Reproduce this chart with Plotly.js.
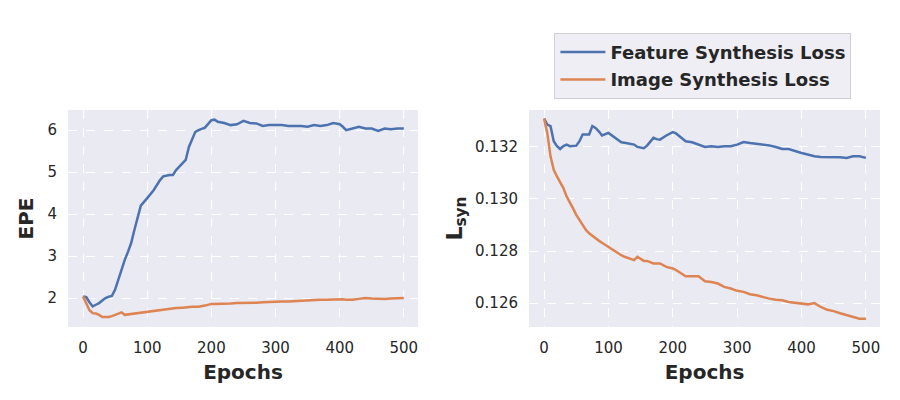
<!DOCTYPE html>
<html>
<head>
<meta charset="utf-8">
<script src="https://cdn.plot.ly/plotly-3.0.1.min.js"></script>
<style>
  html, body { margin: 0; padding: 0; background: #fff; }
  #chart { width: 900px; height: 400px; }
</style>
</head>
<body>
<div id="chart"></div>
<script>
// epochs sampled off the curves
const epochs = [0, 5, 10, 15, 20, 25, 30, 35, 40, 45, 50, 55, 60, 65, 70, 75, 80, 85, 90, 100,
  110, 120, 125, 135, 140, 145, 155, 160, 165, 170, 175, 180, 190, 200, 205, 210, 220, 230, 240, 250,
  260, 270, 280, 290, 300, 310, 320, 330, 340, 350, 360, 370, 380, 390, 400, 405, 410, 420, 430, 440,
  450, 460, 470, 480, 490, 500];

// left panel: EPE
const epeFeature = [2.04, 2.02, 1.9, 1.8, 1.84, 1.88, 1.94, 2.0, 2.03, 2.05, 2.2, 2.44, 2.65, 2.91, 3.1, 3.31, 3.62, 3.94, 4.2, 4.38,
  4.57, 4.81, 4.9, 4.93, 4.93, 5.05, 5.21, 5.29, 5.6, 5.8, 5.96, 6.0, 6.06, 6.24, 6.25, 6.2, 6.17, 6.12, 6.14, 6.22,
  6.17, 6.16, 6.1, 6.12, 6.12, 6.12, 6.1, 6.1, 6.1, 6.08, 6.12, 6.1, 6.12, 6.17, 6.14, 6.08, 6.0, 6.04, 6.08, 6.04,
  6.04, 5.98, 6.04, 6.02, 6.04, 6.04];
const epeImage = [2.04, 1.88, 1.71, 1.64, 1.63, 1.6, 1.55, 1.55, 1.55, 1.57, 1.6, 1.64, 1.66, 1.6, 1.61, 1.62, 1.63, 1.64, 1.66, 1.68,
  1.7, 1.72, 1.72, 1.74, 1.75, 1.76, 1.77, 1.78, 1.78, 1.79, 1.79, 1.79, 1.82, 1.86, 1.86, 1.86, 1.87, 1.87, 1.88, 1.88,
  1.88, 1.89, 1.9, 1.91, 1.92, 1.92, 1.92, 1.93, 1.94, 1.95, 1.96, 1.96, 1.96, 1.97, 1.98, 1.97, 1.96, 1.96, 1.98, 2.0,
  1.99, 1.98, 1.98, 1.99, 1.99, 2.0];

// right panel: L_syn
const synFeature = [0.13309, 0.13286, 0.1328, 0.13222, 0.13203, 0.13192, 0.13203, 0.13209, 0.13203, 0.13204, 0.13205, 0.13222, 0.13248, 0.13248, 0.13248, 0.1328, 0.13273, 0.1326, 0.13244, 0.13254,
  0.13235, 0.13218, 0.13216, 0.13212, 0.13209, 0.132, 0.13195, 0.13205, 0.1322, 0.13235, 0.1323, 0.13228, 0.13244, 0.13257, 0.13252, 0.13241, 0.13222, 0.13218, 0.13209, 0.132,
  0.13203, 0.132, 0.13203, 0.13203, 0.13209, 0.13219, 0.13215, 0.13212, 0.13209, 0.13206, 0.132, 0.13192, 0.13192, 0.13183, 0.13177, 0.13174, 0.1317, 0.13164, 0.13161, 0.13161,
  0.13161, 0.1316, 0.13158, 0.13164, 0.13164, 0.13158];
const synImage = [0.13309, 0.13254, 0.13164, 0.13112, 0.13087, 0.13067, 0.13042, 0.1301, 0.12984, 0.12964, 0.12939, 0.12919, 0.129, 0.12881, 0.12868, 0.12858, 0.12849, 0.1284, 0.12832, 0.12816,
  0.12797, 0.12784, 0.12778, 0.12768, 0.12765, 0.12778, 0.12762, 0.12762, 0.12757, 0.12752, 0.12752, 0.12752, 0.12739, 0.12733, 0.12727, 0.1272, 0.12703, 0.12703, 0.12703, 0.12684,
  0.12681, 0.12675, 0.12662, 0.12656, 0.12647, 0.12643, 0.12634, 0.1263, 0.12623, 0.12617, 0.12613, 0.12611, 0.12604, 0.12601, 0.12598, 0.12597, 0.12595, 0.126, 0.12585, 0.12574,
  0.12569, 0.12561, 0.12553, 0.12546, 0.1254, 0.1254];

const seriesNames = ['Feature Synthesis Loss', 'Image Synthesis Loss'];
const colors = ['#4C72B0', '#DD8452'];

const traces = [
  { x: epochs, y: epeFeature, xaxis: 'x', yaxis: 'y', showlegend: false },
  { x: epochs, y: epeImage, xaxis: 'x', yaxis: 'y', showlegend: false },
  { x: epochs, y: synFeature, xaxis: 'x2', yaxis: 'y2' },
  { x: epochs, y: synImage, xaxis: 'x2', yaxis: 'y2' },
].map(function (t, i) {
  t.name = seriesNames[i % 2];
  t.legendgroup = 'g' + (i % 2);
  t.mode = 'lines';
  t.line = { color: colors[i % 2], width: 2.5 };
  return t;
});

const tickFont = { family: 'DejaVu Sans', size: 15, color: '#262626' };
const titleFont = { family: 'DejaVu Sans', size: 20, color: '#262626' };

function xAxis(domain, anchor) {
  return {
    domain: domain, anchor: anchor, range: [-23.4, 522], dtick: 100, tick0: 0,
    showgrid: true, gridcolor: '#ffffff', griddash: 'dash', gridwidth: 1,
    zeroline: false, showline: false, ticks: '', ticklabelstandoff: 10,
    tickfont: tickFont, title: { text: '<b>Epochs</b>', font: titleFont, standoff: 8 },
  };
}

const layout = {
  width: 900, height: 400,
  margin: { l: 0, r: 0, t: 0, b: 0 },
  paper_bgcolor: '#ffffff',
  plot_bgcolor: '#EAEAF2',
  xaxis: xAxis([0.0756, 0.4644], 'y'),
  xaxis2: xAxis([0.5878, 0.9778], 'y2'),
  yaxis: {
    domain: [0.1825, 0.725], anchor: 'x', range: [1.31, 6.48], dtick: 1, tick0: 2,
    showgrid: true, gridcolor: '#ffffff', griddash: 'dash', gridwidth: 1,
    zeroline: false, showline: false, ticks: '', ticklabelstandoff: 10,
    tickfont: tickFont, title: { text: '<b>EPE</b>', font: titleFont, standoff: 8 },
  },
  yaxis2: {
    domain: [0.1825, 0.725], anchor: 'x2', range: [0.12508, 0.13342], dtick: 0.002, tick0: 0.126,
    tickformat: '.3f',
    showgrid: true, gridcolor: '#ffffff', griddash: 'dash', gridwidth: 1,
    zeroline: false, showline: false, ticks: '', ticklabelstandoff: 10,
    tickfont: tickFont, title: { text: '<b>L<sub>syn</sub></b>', font: { family: 'DejaVu Sans', size: 22, color: '#262626' }, standoff: 6 },
  },
  legend: {
    x: 0.616, y: 0.918, xanchor: 'left', yanchor: 'top',
    bgcolor: '#EEEEF4', bordercolor: '#D0D0D6', borderwidth: 1,
    font: { family: 'DejaVu Sans', size: 18, color: '#262626', weight: 'bold' },
    itemwidth: 45, traceorder: 'grouped', tracegroupgap: 1,
  },
};

Plotly.newPlot('chart', traces, layout, { displayModeBar: false, staticPlot: true });
</script>
</body>
</html>
